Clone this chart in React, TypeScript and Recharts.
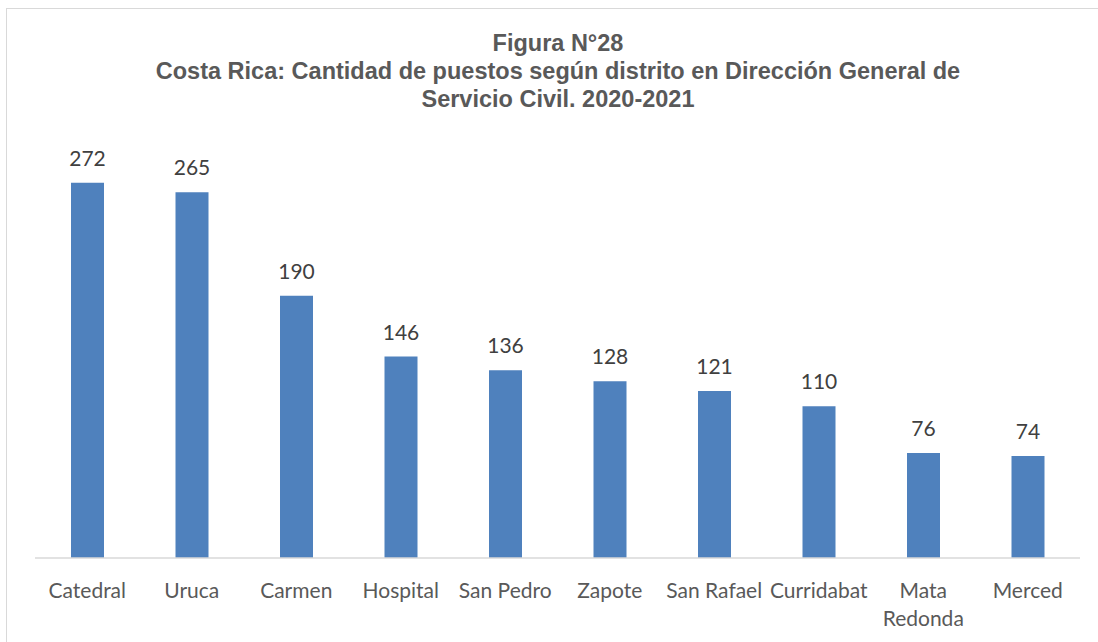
import React from 'react';
import { BarChart, Bar, XAxis, YAxis, LabelList } from 'recharts';

const districts = [
  'Catedral',
  'Uruca',
  'Carmen',
  'Hospital',
  'San Pedro',
  'Zapote',
  'San Rafael',
  'Curridabat',
  'Mata\nRedonda',
  'Merced',
];

const puestos = [272, 265, 190, 146, 136, 128, 121, 110, 76, 74];

const titleLines = [
  'Figura N°28',
  'Costa Rica: Cantidad de puestos según distrito en Dirección General de',
  'Servicio Civil. 2020-2021',
];

const yTicks = [0, 50, 100, 150, 200, 250, 300];

const data = districts.map((name, i) => ({ name, value: puestos[i] }));

const LABEL_FONT = 'Lato, "Open Sans", sans-serif';

function DistrictTick(props: any) {
  const { x, y, payload } = props;
  const lines = String(payload.value).split('\n');
  return (
    <g transform={`translate(${x},${y})`}>
      {lines.map((line, i) => (
        <text
          key={i}
          x={0}
          y={32 + i * 28}
          textAnchor="middle"
          fill="#595959"
          fontSize={21}
          fontFamily={LABEL_FONT}
        >
          {line}
        </text>
      ))}
    </g>
  );
}

export default function App() {
  return (
    <div
      style={{
        position: 'absolute',
        left: 0,
        top: 0,
        width: 1098,
        height: 642,
        overflow: 'hidden',
        background: '#fff',
      }}
    >
      {/* chart frame, open on the right and bottom like the crop */}
      <div
        style={{
          position: 'absolute',
          left: 6,
          top: 8,
          width: 1200,
          height: 800,
          border: '1px solid #d9d9d9',
        }}
      />
      <div
        style={{
          position: 'absolute',
          left: 0,
          top: 29,
          width: 1116,
          textAlign: 'center',
          fontFamily: '"Liberation Sans", Arial, sans-serif',
          fontWeight: 'bold',
          fontSize: 23.5,
          lineHeight: '28px',
          color: '#595959',
        }}
      >
        {titleLines.map((t) => (
          <div key={t}>{t}</div>
        ))}
      </div>
      <div style={{ position: 'absolute', left: 0, top: 0 }}>
        <BarChart
          width={1098}
          height={642}
          data={data}
          margin={{ top: 144, right: 18, left: 35, bottom: 0 }}
          barSize={33}
        >
          <XAxis
            dataKey="name"
            axisLine={{ stroke: '#d9d9d9', strokeWidth: 1.5 }}
            tickLine={false}
            height={84}
            interval={0}
            tick={<DistrictTick />}
          />
          <YAxis hide domain={[0, 300]} ticks={yTicks} />
          <Bar dataKey="value" fill="#4f81bd" isAnimationActive={false}>
            <LabelList
              dataKey="value"
              position="top"
              offset={17}
              fill="#404040"
              fontSize={21}
              fontFamily={LABEL_FONT}
            />
          </Bar>
        </BarChart>
      </div>
    </div>
  );
}
